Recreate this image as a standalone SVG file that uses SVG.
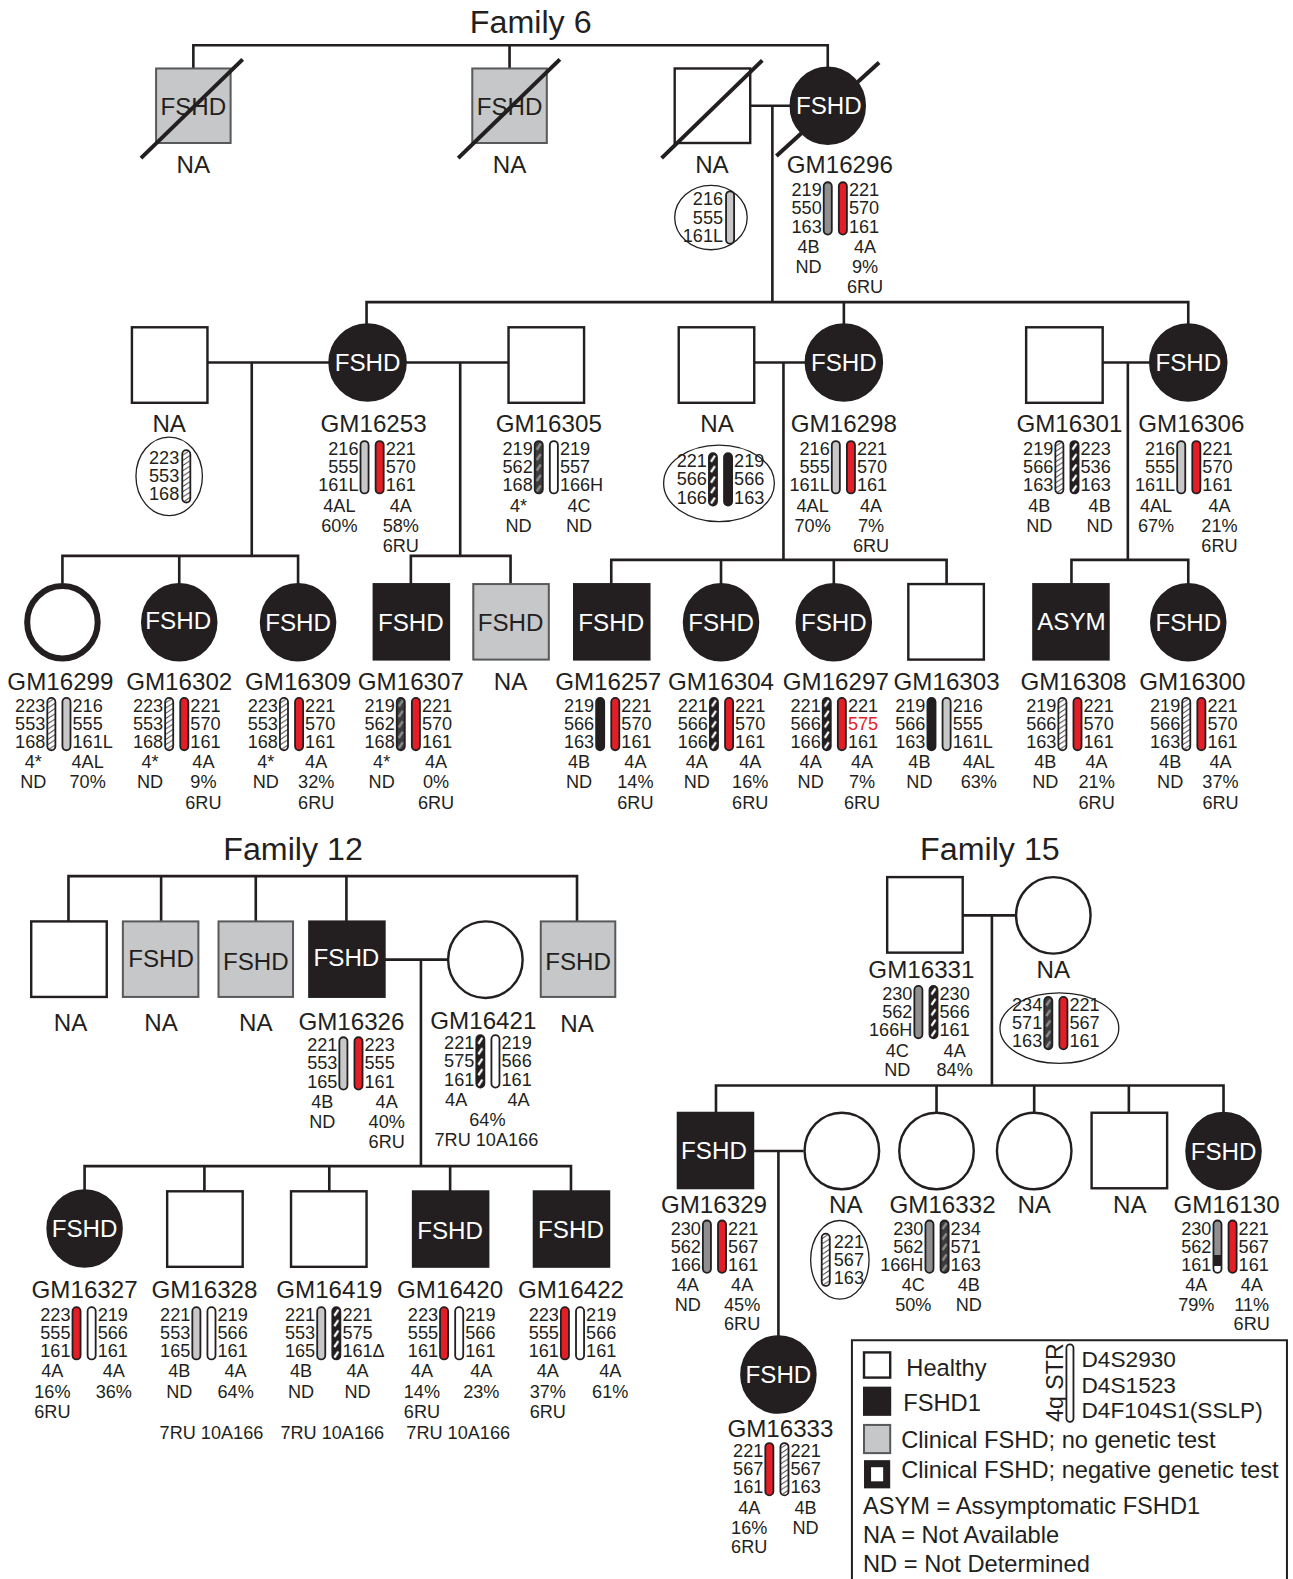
<svg xmlns="http://www.w3.org/2000/svg" width="1293" height="1579" viewBox="0 0 1293 1579">
<defs>
<style>
.t{font-family:"Liberation Sans",Arial,Helvetica,sans-serif;fill:#231f20}
.ttl{font-size:32px;text-anchor:middle}
.lb{font-size:24px;text-anchor:middle}
.fw{font-size:24px;text-anchor:middle;fill:#fff}
.fd{font-size:24px;text-anchor:middle}
.n{font-size:18px}
.nl{text-anchor:end}
.nr{text-anchor:start}
.nc{text-anchor:middle}
.red{fill:#e41e26}
.lg{font-size:23.5px}
.ln{fill:none;stroke:#231f20;stroke-width:2.6}
.sl{fill:none;stroke:#231f20;stroke-width:4}
.w{fill:#fff;stroke:#231f20;stroke-width:2.4}
.k{fill:#231f20;stroke:#231f20;stroke-width:2}
.g{fill:#c6c7c8;stroke:#58595b;stroke-width:2}
.el{fill:#fff;stroke:#231f20;stroke-width:1.3}
.bar{stroke:#231f20;stroke-width:1.8}
.bw{fill:#fff}.bk{fill:#231f20}.br{fill:#e41e26}.b1{fill:#c8c8c8}.b2{fill:#8f8f8f}
.bh{fill:url(#hatch)}.bd{fill:url(#bdash)}.bg{fill:url(#gdash)}.b130{fill:url(#g130)}
</style>
<pattern id="hatch" patternUnits="objectBoundingBox" width="1" height="0.1">
<rect width="8" height="6" fill="#fff"/>
<path d="M0,5.2 L8,0" stroke="#231f20" stroke-width="0.9"/>
</pattern>
<pattern id="bdash" patternUnits="objectBoundingBox" width="1" height="0.2">
<rect width="8" height="11" fill="#231f20"/>
<path d="M2,8.5 L6,2.5" stroke="#fff" stroke-width="2.2"/>
</pattern>
<pattern id="gdash" patternUnits="objectBoundingBox" width="1" height="0.2">
<rect width="8" height="11" fill="#3b3b3b"/>
<path d="M2,8.5 L6,2.5" stroke="#8c8c8c" stroke-width="2.4"/>
</pattern>
<linearGradient id="g130" x1="0" y1="0" x2="0" y2="1">
<stop offset="0" stop-color="#8f8f8f"/><stop offset="0.66" stop-color="#8f8f8f"/>
<stop offset="0.66" stop-color="#231f20"/><stop offset="0.86" stop-color="#231f20"/>
<stop offset="0.86" stop-color="#fff"/><stop offset="1" stop-color="#fff"/>
</linearGradient>
</defs>
<rect width="1293" height="1579" fill="#fff"/>
<g transform="scale(1.00701)">

<text class="t ttl" x="527" y="33">Family 6</text>
<text class="t ttl" x="291" y="854">Family 12</text>
<text class="t ttl" x="983" y="854">Family 15</text>

<g id="connectors">
<path class="ln" d="M192,68 V45 H822 V67 M506,45 V68 M745,105 H785 M767,105 V300 M364,322 V300 H1180 V322 M838,300 V322 M206,360 H327 M403,360 H505 M749,360 H800 M1095,360 H1142 M250,360 V552 M457,360 V552 M778,360 V556 M1120,360 V556 M62,579 V552 H296 V580 M178,552 V580 M408,580 V552 H507 V580 M607,580 V556 H940 V580 M716,556 V580 M828,556 V580 M1064,580 V556 H1180 V580"/>
<path class="ln" d="M68,915 V870 H573 V915 M160,870 V915 M254,870 V915 M344,870 V915 M382,953 H445 M418,953 V1158 M84,1182 V1158 H567 V1183 M203,1158 V1183 M327,1158 V1183 M447,1158 V1183"/>
<path class="ln" d="M956,909 H1009 M985,909 V1078 M711,1105 V1078 H1215 V1105 M930,1078 V1105 M1027,1078 V1105 M1121,1078 V1105 M748,1143 H798 M773,1143 V1327"/>
</g>

<!-- Family 6 generation 1 -->
<g id="f6-i1">
<rect class="g" x="155" y="68" width="74" height="74"/>
<text class="t fd" x="192" y="114.5">FSHD</text>
<line class="sl" x1="140" y1="157" x2="241" y2="59"/>
<text class="t lb" x="192" y="172">NA</text>
</g>
<g id="f6-i2">
<rect class="g" x="469" y="68" width="74" height="74"/>
<text class="t fd" x="506" y="114.5">FSHD</text>
<line class="sl" x1="455" y1="157" x2="556" y2="59"/>
<text class="t lb" x="506" y="172">NA</text>
</g>
<g id="f6-i3">
<rect class="w" x="670" y="68" width="75" height="74"/>
<line class="sl" x1="657" y1="157" x2="757" y2="60"/>
<text class="t lb" x="707" y="172">NA</text>
<ellipse class="el" cx="706" cy="216" rx="36" ry="32"/>
<rect class="bar b1" x="721" y="190" width="8" height="52" rx="4"/>
<text class="t n nl" y="204"><tspan x="718">216</tspan><tspan x="718" dy="18">555</tspan><tspan x="718" dy="18">161L</tspan></text>
</g>
<g id="GM16296">
<ellipse class="k" cx="822" cy="105" rx="37" ry="38"/>
<line class="sl" x1="771" y1="155" x2="873" y2="62"/>
<text class="t fw" x="823" y="113.5">FSHD</text>
<text class="t lb" x="834" y="172">GM16296</text>
<rect class="bar b2" x="818" y="181" width="8" height="52" rx="4"/>
<rect class="bar br" x="833" y="181" width="8" height="52" rx="4"/>
<text class="t n nl" y="195"><tspan x="816">219</tspan><tspan x="816" dy="18">550</tspan><tspan x="816" dy="18">163</tspan></text>
<text class="t n nr" y="195"><tspan x="843">221</tspan><tspan x="843" dy="18">570</tspan><tspan x="843" dy="18">161</tspan></text>
<text class="t n nc" x="803" y="251">4B</text><text class="t n nc" x="803" y="271">ND</text>
<text class="t n nc" x="859" y="251">4A</text><text class="t n nc" x="859" y="271">9%</text><text class="t n nc" x="859" y="291">6RU</text>
</g>

<!-- Family 6 generation 2 -->
<g id="f6-i4">
<rect class="w" x="131" y="325" width="75" height="75"/>
<text class="t lb" x="168" y="429">NA</text>
<ellipse class="el" cx="168" cy="473" rx="33" ry="39"/>
<rect class="bar bh" x="181" y="447" width="8" height="52" rx="4"/>
<text class="t n nl" y="461"><tspan x="178">223</tspan><tspan x="178" dy="18">553</tspan><tspan x="178" dy="18">168</tspan></text>
</g>
<g id="GM16253">
<ellipse class="k" cx="365" cy="360" rx="38" ry="38"/>
<text class="t fw" x="365" y="368.5">FSHD</text>
<text class="t lb" x="371" y="429">GM16253</text>
<rect class="bar b1" x="358" y="438" width="8" height="52" rx="4"/>
<rect class="bar br" x="373" y="438" width="8" height="52" rx="4"/>
<text class="t n nl" y="452"><tspan x="356">216</tspan><tspan x="356" dy="18">555</tspan><tspan x="356" dy="18">161L</tspan></text>
<text class="t n nr" y="452"><tspan x="383">221</tspan><tspan x="383" dy="18">570</tspan><tspan x="383" dy="18">161</tspan></text>
<text class="t n nc" x="337" y="508">4AL</text><text class="t n nc" x="337" y="528">60%</text>
<text class="t n nc" x="398" y="508">4A</text><text class="t n nc" x="398" y="528">58%</text><text class="t n nc" x="398" y="548">6RU</text>
</g>
<g id="GM16305">
<rect class="w" x="505" y="325" width="75" height="75"/>
<text class="t lb" x="545" y="429">GM16305</text>
<rect class="bar bg" x="531" y="438" width="8" height="52" rx="4"/>
<rect class="bar bw" x="546" y="438" width="8" height="52" rx="4"/>
<text class="t n nl" y="452"><tspan x="529">219</tspan><tspan x="529" dy="18">562</tspan><tspan x="529" dy="18">168</tspan></text>
<text class="t n nr" y="452"><tspan x="556">219</tspan><tspan x="556" dy="18">557</tspan><tspan x="556" dy="18">166H</tspan></text>
<text class="t n nc" x="515" y="508">4*</text><text class="t n nc" x="515" y="528">ND</text>
<text class="t n nc" x="575" y="508">4C</text><text class="t n nc" x="575" y="528">ND</text>
</g>
<g id="f6-i5">
<rect class="w" x="674" y="325" width="75" height="75"/>
<text class="t lb" x="712" y="429">NA</text>
<ellipse class="el" cx="714" cy="480" rx="55" ry="38"/>
<rect class="bar bd" x="704" y="450" width="8" height="52" rx="4"/>
<rect class="bar bk" x="719" y="450" width="8" height="52" rx="4"/>
<text class="t n nl" y="464"><tspan x="702">221</tspan><tspan x="702" dy="18">566</tspan><tspan x="702" dy="18">166</tspan></text>
<text class="t n nr" y="464"><tspan x="729">219</tspan><tspan x="729" dy="18">566</tspan><tspan x="729" dy="18">163</tspan></text>
</g>
<g id="GM16298">
<ellipse class="k" cx="838" cy="360" rx="38" ry="38"/>
<text class="t fw" x="838" y="368.5">FSHD</text>
<text class="t lb" x="838" y="429">GM16298</text>
<rect class="bar b1" x="826" y="438" width="8" height="52" rx="4"/>
<rect class="bar br" x="841" y="438" width="8" height="52" rx="4"/>
<text class="t n nl" y="452"><tspan x="824">216</tspan><tspan x="824" dy="18">555</tspan><tspan x="824" dy="18">161L</tspan></text>
<text class="t n nr" y="452"><tspan x="851">221</tspan><tspan x="851" dy="18">570</tspan><tspan x="851" dy="18">161</tspan></text>
<text class="t n nc" x="807" y="508">4AL</text><text class="t n nc" x="807" y="528">70%</text>
<text class="t n nc" x="865" y="508">4A</text><text class="t n nc" x="865" y="528">7%</text><text class="t n nc" x="865" y="548">6RU</text>
</g>
<g id="GM16301">
<rect class="w" x="1019" y="325" width="76" height="75"/>
<text class="t lb" x="1062" y="429">GM16301</text>
<rect class="bar bh" x="1048" y="438" width="8" height="52" rx="4"/>
<rect class="bar bd" x="1063" y="438" width="8" height="52" rx="4"/>
<text class="t n nl" y="452"><tspan x="1046">219</tspan><tspan x="1046" dy="18">566</tspan><tspan x="1046" dy="18">163</tspan></text>
<text class="t n nr" y="452"><tspan x="1073">223</tspan><tspan x="1073" dy="18">536</tspan><tspan x="1073" dy="18">163</tspan></text>
<text class="t n nc" x="1032" y="508">4B</text><text class="t n nc" x="1032" y="528">ND</text>
<text class="t n nc" x="1092" y="508">4B</text><text class="t n nc" x="1092" y="528">ND</text>
</g>
<g id="GM16306">
<ellipse class="k" cx="1180" cy="360" rx="38" ry="38"/>
<text class="t fw" x="1180" y="368.5">FSHD</text>
<text class="t lb" x="1183" y="429">GM16306</text>
<rect class="bar b1" x="1169" y="438" width="8" height="52" rx="4"/>
<rect class="bar br" x="1184" y="438" width="8" height="52" rx="4"/>
<text class="t n nl" y="452"><tspan x="1167">216</tspan><tspan x="1167" dy="18">555</tspan><tspan x="1167" dy="18">161L</tspan></text>
<text class="t n nr" y="452"><tspan x="1194">221</tspan><tspan x="1194" dy="18">570</tspan><tspan x="1194" dy="18">161</tspan></text>
<text class="t n nc" x="1148" y="508">4AL</text><text class="t n nc" x="1148" y="528">67%</text>
<text class="t n nc" x="1211" y="508">4A</text><text class="t n nc" x="1211" y="528">21%</text><text class="t n nc" x="1211" y="548">6RU</text>
</g>

<!-- Family 6 generation 3 -->
<g id="GM16299">
<ellipse cx="62" cy="618" rx="35" ry="36" fill="#fff" stroke="#231f20" stroke-width="6"/>
<text class="t lb" x="60" y="685">GM16299</text>
<rect class="bar bh" x="47" y="693" width="8" height="52" rx="4"/>
<rect class="bar b1" x="62" y="693" width="8" height="52" rx="4"/>
<text class="t n nl" y="707"><tspan x="45">223</tspan><tspan x="45" dy="18">553</tspan><tspan x="45" dy="18">168</tspan></text>
<text class="t n nr" y="707"><tspan x="72">216</tspan><tspan x="72" dy="18">555</tspan><tspan x="72" dy="18">161L</tspan></text>
<text class="t n nc" x="33" y="763">4*</text><text class="t n nc" x="33" y="783">ND</text>
<text class="t n nc" x="87" y="763">4AL</text><text class="t n nc" x="87" y="783">70%</text>
</g>
<g id="GM16302">
<ellipse class="k" cx="178" cy="618" rx="37" ry="38"/>
<text class="t fw" x="177" y="625">FSHD</text>
<text class="t lb" x="178" y="685">GM16302</text>
<rect class="bar bh" x="164" y="693" width="8" height="52" rx="4"/>
<rect class="bar br" x="179" y="693" width="8" height="52" rx="4"/>
<text class="t n nl" y="707"><tspan x="162">223</tspan><tspan x="162" dy="18">553</tspan><tspan x="162" dy="18">168</tspan></text>
<text class="t n nr" y="707"><tspan x="189">221</tspan><tspan x="189" dy="18">570</tspan><tspan x="189" dy="18">161</tspan></text>
<text class="t n nc" x="149" y="763">4*</text><text class="t n nc" x="149" y="783">ND</text>
<text class="t n nc" x="202" y="763">4A</text><text class="t n nc" x="202" y="783">9%</text><text class="t n nc" x="202" y="803">6RU</text>
</g>
<g id="GM16309">
<ellipse class="k" cx="296" cy="618" rx="37" ry="38"/>
<text class="t fw" x="296" y="626.5">FSHD</text>
<text class="t lb" x="296" y="685">GM16309</text>
<rect class="bar bh" x="278" y="693" width="8" height="52" rx="4"/>
<rect class="bar br" x="293" y="693" width="8" height="52" rx="4"/>
<text class="t n nl" y="707"><tspan x="276">223</tspan><tspan x="276" dy="18">553</tspan><tspan x="276" dy="18">168</tspan></text>
<text class="t n nr" y="707"><tspan x="303">221</tspan><tspan x="303" dy="18">570</tspan><tspan x="303" dy="18">161</tspan></text>
<text class="t n nc" x="264" y="763">4*</text><text class="t n nc" x="264" y="783">ND</text>
<text class="t n nc" x="314" y="763">4A</text><text class="t n nc" x="314" y="783">32%</text><text class="t n nc" x="314" y="803">6RU</text>
</g>
<g id="GM16307">
<rect class="k" x="371" y="580" width="75" height="75"/>
<text class="t fw" x="408" y="626.5">FSHD</text>
<text class="t lb" x="408" y="685">GM16307</text>
<rect class="bar bg" x="394" y="693" width="8" height="52" rx="4"/>
<rect class="bar br" x="409" y="693" width="8" height="52" rx="4"/>
<text class="t n nl" y="707"><tspan x="392">219</tspan><tspan x="392" dy="18">562</tspan><tspan x="392" dy="18">168</tspan></text>
<text class="t n nr" y="707"><tspan x="419">221</tspan><tspan x="419" dy="18">570</tspan><tspan x="419" dy="18">161</tspan></text>
<text class="t n nc" x="379" y="763">4*</text><text class="t n nc" x="379" y="783">ND</text>
<text class="t n nc" x="433" y="763">4A</text><text class="t n nc" x="433" y="783">0%</text><text class="t n nc" x="433" y="803">6RU</text>
</g>
<g id="f6-i6">
<rect class="g" x="470" y="580" width="75" height="75"/>
<text class="t fd" x="507" y="626.5">FSHD</text>
<text class="t lb" x="507" y="685">NA</text>
</g>
<g id="GM16257">
<rect class="k" x="570" y="580" width="75" height="75"/>
<text class="t fw" x="607" y="626.5">FSHD</text>
<text class="t lb" x="604" y="685">GM16257</text>
<rect class="bar bk" x="592" y="693" width="8" height="52" rx="4"/>
<rect class="bar br" x="607" y="693" width="8" height="52" rx="4"/>
<text class="t n nl" y="707"><tspan x="590">219</tspan><tspan x="590" dy="18">566</tspan><tspan x="590" dy="18">163</tspan></text>
<text class="t n nr" y="707"><tspan x="617">221</tspan><tspan x="617" dy="18">570</tspan><tspan x="617" dy="18">161</tspan></text>
<text class="t n nc" x="575" y="763">4B</text><text class="t n nc" x="575" y="783">ND</text>
<text class="t n nc" x="631" y="763">4A</text><text class="t n nc" x="631" y="783">14%</text><text class="t n nc" x="631" y="803">6RU</text>
</g>
<g id="GM16304">
<ellipse class="k" cx="716" cy="618" rx="37" ry="38"/>
<text class="t fw" x="716" y="626.5">FSHD</text>
<text class="t lb" x="716" y="685">GM16304</text>
<rect class="bar bd" x="705" y="693" width="8" height="52" rx="4"/>
<rect class="bar br" x="720" y="693" width="8" height="52" rx="4"/>
<text class="t n nl" y="707"><tspan x="703">221</tspan><tspan x="703" dy="18">566</tspan><tspan x="703" dy="18">166</tspan></text>
<text class="t n nr" y="707"><tspan x="730">221</tspan><tspan x="730" dy="18">570</tspan><tspan x="730" dy="18">161</tspan></text>
<text class="t n nc" x="692" y="763">4A</text><text class="t n nc" x="692" y="783">ND</text>
<text class="t n nc" x="745" y="763">4A</text><text class="t n nc" x="745" y="783">16%</text><text class="t n nc" x="745" y="803">6RU</text>
</g>
<g id="GM16297">
<ellipse class="k" cx="828" cy="618" rx="37" ry="38"/>
<text class="t fw" x="828" y="626.5">FSHD</text>
<text class="t lb" x="830" y="685">GM16297</text>
<rect class="bar bd" x="817" y="693" width="8" height="52" rx="4"/>
<rect class="bar br" x="832" y="693" width="8" height="52" rx="4"/>
<text class="t n nl" y="707"><tspan x="815">221</tspan><tspan x="815" dy="18">566</tspan><tspan x="815" dy="18">166</tspan></text>
<text class="t n nr" y="707"><tspan x="842">221</tspan><tspan x="842" dy="18" class="red">575</tspan><tspan x="842" dy="18">161</tspan></text>
<text class="t n nc" x="805" y="763">4A</text><text class="t n nc" x="805" y="783">ND</text>
<text class="t n nc" x="856" y="763">4A</text><text class="t n nc" x="856" y="783">7%</text><text class="t n nc" x="856" y="803">6RU</text>
</g>
<g id="GM16303">
<rect class="w" x="902" y="580" width="75" height="75"/>
<text class="t lb" x="940" y="685">GM16303</text>
<rect class="bar bk" x="921" y="693" width="8" height="52" rx="4"/>
<rect class="bar b1" x="936" y="693" width="8" height="52" rx="4"/>
<text class="t n nl" y="707"><tspan x="919">219</tspan><tspan x="919" dy="18">566</tspan><tspan x="919" dy="18">163</tspan></text>
<text class="t n nr" y="707"><tspan x="946">216</tspan><tspan x="946" dy="18">555</tspan><tspan x="946" dy="18">161L</tspan></text>
<text class="t n nc" x="913" y="763">4B</text><text class="t n nc" x="913" y="783">ND</text>
<text class="t n nc" x="972" y="763">4AL</text><text class="t n nc" x="972" y="783">63%</text>
</g>
<g id="GM16308">
<rect class="k" x="1026" y="580" width="75" height="75"/>
<text class="t fw" x="1064" y="625.5">ASYM</text>
<text class="t lb" x="1066" y="685">GM16308</text>
<rect class="bar bh" x="1051" y="693" width="8" height="52" rx="4"/>
<rect class="bar br" x="1066" y="693" width="8" height="52" rx="4"/>
<text class="t n nl" y="707"><tspan x="1049">219</tspan><tspan x="1049" dy="18">566</tspan><tspan x="1049" dy="18">163</tspan></text>
<text class="t n nr" y="707"><tspan x="1076">221</tspan><tspan x="1076" dy="18">570</tspan><tspan x="1076" dy="18">161</tspan></text>
<text class="t n nc" x="1038" y="763">4B</text><text class="t n nc" x="1038" y="783">ND</text>
<text class="t n nc" x="1089" y="763">4A</text><text class="t n nc" x="1089" y="783">21%</text><text class="t n nc" x="1089" y="803">6RU</text>
</g>
<g id="GM16300">
<ellipse class="k" cx="1180" cy="618" rx="37" ry="38"/>
<text class="t fw" x="1180" y="626.5">FSHD</text>
<text class="t lb" x="1184" y="685">GM16300</text>
<rect class="bar bh" x="1174" y="693" width="8" height="52" rx="4"/>
<rect class="bar br" x="1189" y="693" width="8" height="52" rx="4"/>
<text class="t n nl" y="707"><tspan x="1172">219</tspan><tspan x="1172" dy="18">566</tspan><tspan x="1172" dy="18">163</tspan></text>
<text class="t n nr" y="707"><tspan x="1199">221</tspan><tspan x="1199" dy="18">570</tspan><tspan x="1199" dy="18">161</tspan></text>
<text class="t n nc" x="1162" y="763">4B</text><text class="t n nc" x="1162" y="783">ND</text>
<text class="t n nc" x="1212" y="763">4A</text><text class="t n nc" x="1212" y="783">37%</text><text class="t n nc" x="1212" y="803">6RU</text>
</g>

<!-- Family 12 -->
<g id="f12-i1">
<rect class="w" x="31" y="915" width="75" height="75"/>
<text class="t lb" x="70" y="1024">NA</text>
</g>
<g id="f12-i2">
<rect class="g" x="122" y="915" width="75" height="75"/>
<text class="t fd" x="160" y="960.5">FSHD</text>
<text class="t lb" x="160" y="1024">NA</text>
</g>
<g id="f12-i3">
<rect class="g" x="217" y="915" width="74" height="75"/>
<text class="t fd" x="254" y="963.5">FSHD</text>
<text class="t lb" x="254" y="1024">NA</text>
</g>
<g id="GM16326">
<rect class="k" x="307" y="915" width="75" height="75"/>
<text class="t fw" x="344" y="959.5">FSHD</text>
<text class="t lb" x="349" y="1023">GM16326</text>
<rect class="bar b1" x="337" y="1030" width="8" height="52" rx="4"/>
<rect class="bar br" x="352" y="1030" width="8" height="52" rx="4"/>
<text class="t n nl" y="1044"><tspan x="335">221</tspan><tspan x="335" dy="18">553</tspan><tspan x="335" dy="18">165</tspan></text>
<text class="t n nr" y="1044"><tspan x="362">223</tspan><tspan x="362" dy="18">555</tspan><tspan x="362" dy="18">161</tspan></text>
<text class="t n nc" x="320" y="1100">4B</text><text class="t n nc" x="320" y="1120">ND</text>
<text class="t n nc" x="384" y="1100">4A</text><text class="t n nc" x="384" y="1120">40%</text><text class="t n nc" x="384" y="1140">6RU</text>
</g>
<g id="GM16421">
<ellipse class="w" cx="482" cy="953" rx="37" ry="38"/>
<text class="t lb" x="480" y="1022">GM16421</text>
<rect class="bar bd" x="473" y="1028" width="8" height="52" rx="4"/>
<rect class="bar bw" x="488" y="1028" width="8" height="52" rx="4"/>
<text class="t n nl" y="1042"><tspan x="471">221</tspan><tspan x="471" dy="18">575</tspan><tspan x="471" dy="18">161</tspan></text>
<text class="t n nr" y="1042"><tspan x="498">219</tspan><tspan x="498" dy="18">566</tspan><tspan x="498" dy="18">161</tspan></text>
<text class="t n nc" x="453" y="1098">4A</text>
<text class="t n nc" x="515" y="1098">4A</text>
<text class="t n nc" x="484" y="1118">64%</text>
<text class="t n nc" x="483" y="1138">7RU 10A166</text>
</g>
<g id="f12-i4">
<rect class="g" x="537" y="915" width="74" height="75"/>
<text class="t fd" x="574" y="963.5">FSHD</text>
<text class="t lb" x="573" y="1025">NA</text>
</g>
<g id="GM16327">
<ellipse class="k" cx="84" cy="1220" rx="37" ry="38"/>
<text class="t fw" x="84" y="1228.5">FSHD</text>
<text class="t lb" x="84" y="1289">GM16327</text>
<rect class="bar br" x="72" y="1298" width="8" height="52" rx="4"/>
<rect class="bar bw" x="87" y="1298" width="8" height="52" rx="4"/>
<text class="t n nl" y="1312"><tspan x="70">223</tspan><tspan x="70" dy="18">555</tspan><tspan x="70" dy="18">161</tspan></text>
<text class="t n nr" y="1312"><tspan x="97">219</tspan><tspan x="97" dy="18">566</tspan><tspan x="97" dy="18">161</tspan></text>
<text class="t n nc" x="52" y="1367">4A</text><text class="t n nc" x="52" y="1388">16%</text><text class="t n nc" x="52" y="1408">6RU</text>
<text class="t n nc" x="113" y="1367">4A</text><text class="t n nc" x="113" y="1388">36%</text>
</g>
<g id="GM16328">
<rect class="w" x="166" y="1183" width="75" height="75"/>
<text class="t lb" x="203" y="1289">GM16328</text>
<rect class="bar b1" x="191" y="1298" width="8" height="52" rx="4"/>
<rect class="bar bw" x="206" y="1298" width="8" height="52" rx="4"/>
<text class="t n nl" y="1312"><tspan x="189">221</tspan><tspan x="189" dy="18">553</tspan><tspan x="189" dy="18">165</tspan></text>
<text class="t n nr" y="1312"><tspan x="216">219</tspan><tspan x="216" dy="18">566</tspan><tspan x="216" dy="18">161</tspan></text>
<text class="t n nc" x="178" y="1367">4B</text><text class="t n nc" x="178" y="1388">ND</text>
<text class="t n nc" x="234" y="1367">4A</text><text class="t n nc" x="234" y="1388">64%</text>
<text class="t n nc" x="210" y="1429">7RU 10A166</text>
</g>
<g id="GM16419">
<rect class="w" x="289" y="1183" width="75" height="75"/>
<text class="t lb" x="327" y="1289">GM16419</text>
<rect class="bar b1" x="315" y="1298" width="8" height="52" rx="4"/>
<rect class="bar bd" x="330" y="1298" width="8" height="52" rx="4"/>
<text class="t n nl" y="1312"><tspan x="313">221</tspan><tspan x="313" dy="18">553</tspan><tspan x="313" dy="18">165</tspan></text>
<text class="t n nr" y="1312"><tspan x="340">221</tspan><tspan x="340" dy="18">575</tspan><tspan x="340" dy="18">161Δ</tspan></text>
<text class="t n nc" x="299" y="1367">4B</text><text class="t n nc" x="299" y="1388">ND</text>
<text class="t n nc" x="355" y="1367">4A</text><text class="t n nc" x="355" y="1388">ND</text>
<text class="t n nc" x="330" y="1429">7RU 10A166</text>
</g>
<g id="GM16420">
<rect class="k" x="410" y="1183" width="75" height="75"/>
<text class="t fw" x="447" y="1230.5">FSHD</text>
<text class="t lb" x="447" y="1289">GM16420</text>
<rect class="bar br" x="437" y="1298" width="8" height="52" rx="4"/>
<rect class="bar bw" x="452" y="1298" width="8" height="52" rx="4"/>
<text class="t n nl" y="1312"><tspan x="435">223</tspan><tspan x="435" dy="18">555</tspan><tspan x="435" dy="18">161</tspan></text>
<text class="t n nr" y="1312"><tspan x="462">219</tspan><tspan x="462" dy="18">566</tspan><tspan x="462" dy="18">161</tspan></text>
<text class="t n nc" x="419" y="1367">4A</text><text class="t n nc" x="419" y="1388">14%</text><text class="t n nc" x="419" y="1408">6RU</text>
<text class="t n nc" x="478" y="1367">4A</text><text class="t n nc" x="478" y="1388">23%</text>
<text class="t n nc" x="455" y="1429">7RU 10A166</text>
</g>
<g id="GM16422">
<rect class="k" x="530" y="1183" width="75" height="75"/>
<text class="t fw" x="567" y="1229.5">FSHD</text>
<text class="t lb" x="567" y="1289">GM16422</text>
<rect class="bar br" x="557" y="1298" width="8" height="52" rx="4"/>
<rect class="bar bw" x="572" y="1298" width="8" height="52" rx="4"/>
<text class="t n nl" y="1312"><tspan x="555">223</tspan><tspan x="555" dy="18">555</tspan><tspan x="555" dy="18">161</tspan></text>
<text class="t n nr" y="1312"><tspan x="582">219</tspan><tspan x="582" dy="18">566</tspan><tspan x="582" dy="18">161</tspan></text>
<text class="t n nc" x="544" y="1367">4A</text><text class="t n nc" x="544" y="1388">37%</text><text class="t n nc" x="544" y="1408">6RU</text>
<text class="t n nc" x="606" y="1367">4A</text><text class="t n nc" x="606" y="1388">61%</text>
</g>

<!-- Family 15 -->
<g id="GM16331">
<rect class="w" x="881" y="871" width="75" height="75"/>
<text class="t lb" x="915" y="971">GM16331</text>
<rect class="bar b2" x="908" y="979" width="8" height="52" rx="4"/>
<rect class="bar bd" x="923" y="979" width="8" height="52" rx="4"/>
<text class="t n nl" y="993"><tspan x="906">230</tspan><tspan x="906" dy="18">562</tspan><tspan x="906" dy="18">166H</tspan></text>
<text class="t n nr" y="993"><tspan x="933">230</tspan><tspan x="933" dy="18">566</tspan><tspan x="933" dy="18">161</tspan></text>
<text class="t n nc" x="891" y="1050">4C</text><text class="t n nc" x="891" y="1069">ND</text>
<text class="t n nc" x="948" y="1050">4A</text><text class="t n nc" x="948" y="1069">84%</text>
</g>
<g id="f15-i1">
<ellipse class="w" cx="1046" cy="909" rx="37" ry="38"/>
<text class="t lb" x="1046" y="971">NA</text>
<ellipse class="el" cx="1052" cy="1021" rx="59" ry="35"/>
<rect class="bar bg" x="1037" y="990" width="8" height="52" rx="4"/>
<rect class="bar br" x="1052" y="990" width="8" height="52" rx="4"/>
<text class="t n nl" y="1004"><tspan x="1035">234</tspan><tspan x="1035" dy="18">571</tspan><tspan x="1035" dy="18">163</tspan></text>
<text class="t n nr" y="1004"><tspan x="1062">221</tspan><tspan x="1062" dy="18">567</tspan><tspan x="1062" dy="18">161</tspan></text>
</g>
<g id="GM16329">
<rect class="k" x="673" y="1105" width="75" height="75"/>
<text class="t fw" x="709" y="1150.5">FSHD</text>
<text class="t lb" x="709" y="1205">GM16329</text>
<rect class="bar b2" x="698" y="1212" width="8" height="52" rx="4"/>
<rect class="bar br" x="713" y="1212" width="8" height="52" rx="4"/>
<text class="t n nl" y="1226"><tspan x="696">230</tspan><tspan x="696" dy="18">562</tspan><tspan x="696" dy="18">166</tspan></text>
<text class="t n nr" y="1226"><tspan x="723">221</tspan><tspan x="723" dy="18">567</tspan><tspan x="723" dy="18">161</tspan></text>
<text class="t n nc" x="683" y="1282">4A</text><text class="t n nc" x="683" y="1302">ND</text>
<text class="t n nc" x="737" y="1282">4A</text><text class="t n nc" x="737" y="1302">45%</text><text class="t n nc" x="737" y="1321">6RU</text>
</g>
<g id="f15-i2">
<ellipse class="w" cx="836" cy="1143" rx="37" ry="38"/>
<text class="t lb" x="840" y="1205">NA</text>
<ellipse class="el" cx="834" cy="1251" rx="29" ry="39"/>
<rect class="bar bh" x="816" y="1225" width="8" height="52" rx="4"/>
<text class="t n nr" y="1239"><tspan x="828">221</tspan><tspan x="828" dy="18">567</tspan><tspan x="828" dy="18">163</tspan></text>
</g>
<g id="GM16332">
<ellipse class="w" cx="930" cy="1143" rx="37" ry="38"/>
<text class="t lb" x="936" y="1205">GM16332</text>
<rect class="bar b2" x="919" y="1212" width="8" height="52" rx="4"/>
<rect class="bar bg" x="934" y="1212" width="8" height="52" rx="4"/>
<text class="t n nl" y="1226"><tspan x="917">230</tspan><tspan x="917" dy="18">562</tspan><tspan x="917" dy="18">166H</tspan></text>
<text class="t n nr" y="1226"><tspan x="944">234</tspan><tspan x="944" dy="18">571</tspan><tspan x="944" dy="18">163</tspan></text>
<text class="t n nc" x="907" y="1282">4C</text><text class="t n nc" x="907" y="1302">50%</text>
<text class="t n nc" x="962" y="1282">4B</text><text class="t n nc" x="962" y="1302">ND</text>
</g>
<g id="f15-i3">
<ellipse class="w" cx="1027" cy="1143" rx="37" ry="38"/>
<text class="t lb" x="1027" y="1205">NA</text>
</g>
<g id="f15-i4">
<rect class="w" x="1084" y="1105" width="75" height="75"/>
<text class="t lb" x="1122" y="1205">NA</text>
</g>
<g id="GM16130">
<ellipse class="k" cx="1215" cy="1143" rx="37" ry="38"/>
<text class="t fw" x="1215" y="1151.5">FSHD</text>
<text class="t lb" x="1218" y="1205">GM16130</text>
<rect class="bar b130" x="1205" y="1212" width="8" height="52" rx="4"/>
<rect class="bar br" x="1220" y="1212" width="8" height="52" rx="4"/>
<text class="t n nl" y="1226"><tspan x="1203">230</tspan><tspan x="1203" dy="18">562</tspan><tspan x="1203" dy="18">161</tspan></text>
<text class="t n nr" y="1226"><tspan x="1230">221</tspan><tspan x="1230" dy="18">567</tspan><tspan x="1230" dy="18">161</tspan></text>
<text class="t n nc" x="1188" y="1282">4A</text><text class="t n nc" x="1188" y="1302">79%</text>
<text class="t n nc" x="1243" y="1282">4A</text><text class="t n nc" x="1243" y="1302">11%</text><text class="t n nc" x="1243" y="1321">6RU</text>
</g>
<g id="GM16333">
<ellipse class="k" cx="773" cy="1365" rx="37" ry="38"/>
<text class="t fw" x="773" y="1373.5">FSHD</text>
<text class="t lb" x="775" y="1427">GM16333</text>
<rect class="bar br" x="760" y="1433" width="8" height="52" rx="4"/>
<rect class="bar bh" x="775" y="1433" width="8" height="52" rx="4"/>
<text class="t n nl" y="1447"><tspan x="758">221</tspan><tspan x="758" dy="18">567</tspan><tspan x="758" dy="18">161</tspan></text>
<text class="t n nr" y="1447"><tspan x="785">221</tspan><tspan x="785" dy="18">567</tspan><tspan x="785" dy="18">163</tspan></text>
<text class="t n nc" x="744" y="1503">4A</text><text class="t n nc" x="744" y="1523">16%</text><text class="t n nc" x="744" y="1542">6RU</text>
<text class="t n nc" x="800" y="1503">4B</text><text class="t n nc" x="800" y="1523">ND</text>
</g>

<!-- Legend -->
<g id="legend">
<path d="M846,1572 V1331 H1278 V1572" fill="#fff" stroke="#231f20" stroke-width="2"/>
<rect class="w" x="858" y="1343" width="26" height="25" stroke-width="2"/>
<text class="t lg" x="900" y="1366">Healthy</text>
<rect class="k" x="858" y="1378" width="26" height="27"/>
<text class="t lg" x="897" y="1401">FSHD1</text>
<text class="t" font-size="23" text-anchor="middle" transform="rotate(-90 1047 1373)" x="1047" y="1381.5">4q STR</text>
<rect class="bar bw" x="1059" y="1335" width="7" height="77" rx="3.5"/>
<text class="t" font-size="22.5" x="1074" y="1357">D4S2930</text>
<text class="t" font-size="22.5" x="1074" y="1383">D4S1523</text>
<text class="t" font-size="22.5" x="1074" y="1408">D4F104S1(SSLP)</text>
<rect class="g" x="858" y="1415" width="26" height="28"/>
<text class="t lg" x="895" y="1438">Clinical FSHD; no genetic test</text>
<rect x="858" y="1450" width="26" height="28" fill="#231f20"/>
<rect x="865" y="1457" width="12" height="14" fill="#fff"/>
<text class="t lg" x="895" y="1468">Clinical FSHD; negative genetic test</text>
<text class="t lg" x="857" y="1503">ASYM = Assymptomatic FSHD1</text>
<text class="t lg" x="857" y="1532">NA = Not Available</text>
<text class="t lg" x="857" y="1561">ND = Not Determined</text>
</g>
</g>
</svg>
